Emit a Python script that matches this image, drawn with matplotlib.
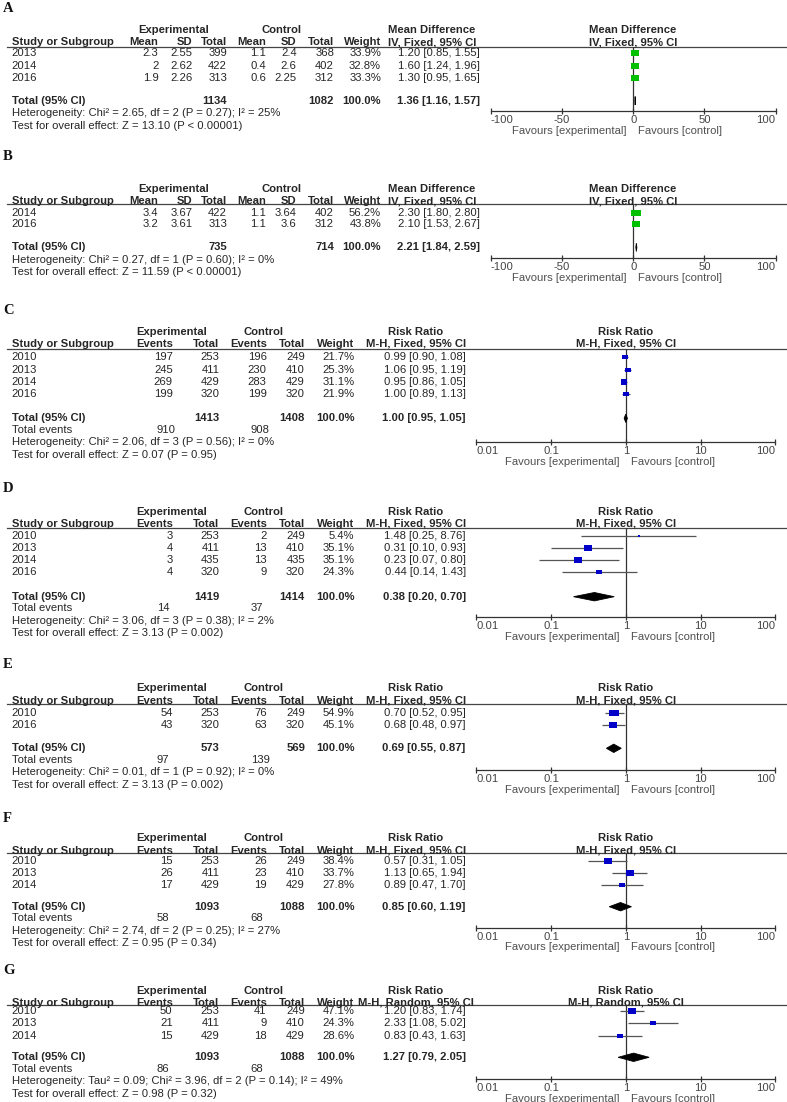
import numpy as np
import matplotlib
matplotlib.use('Agg')
import matplotlib.pyplot as plt
from matplotlib.ticker import NullLocator

plt.rcParams['font.family'] = ['Liberation Sans', 'DejaVu Sans']

# ---------------- DATA ----------------
# Panel A (mean difference)
studies_A = ['2013', '2014', '2016']
exp_mean_A = [2.3, 2, 1.9]
exp_sd_A = [2.55, 2.62, 2.26]
exp_n_A = [399, 422, 313]
ctl_mean_A = [1.1, 0.4, 0.6]
ctl_sd_A = [2.4, 2.6, 2.25]
ctl_n_A = [368, 402, 312]
weight_A = [33.9, 32.8, 33.3]
est_A = [1.20, 1.60, 1.30]
lo_A = [0.85, 1.24, 0.95]
hi_A = [1.55, 1.96, 1.65]
total_A = [1.36, 1.16, 1.57]
totn_A = [1134, 1082]
het_A = 'Heterogeneity: Chi² = 2.65, df = 2 (P = 0.27); I² = 25%'
test_A = 'Test for overall effect: Z = 13.10 (P < 0.00001)'

# Panel B (mean difference)
studies_B = ['2014', '2016']
exp_mean_B = [3.4, 3.2]
exp_sd_B = [3.67, 3.61]
exp_n_B = [422, 313]
ctl_mean_B = [1.1, 1.1]
ctl_sd_B = [3.64, 3.6]
ctl_n_B = [402, 312]
weight_B = [56.2, 43.8]
est_B = [2.30, 2.10]
lo_B = [1.80, 1.53]
hi_B = [2.80, 2.67]
total_B = [2.21, 1.84, 2.59]
totn_B = [735, 714]
het_B = 'Heterogeneity: Chi² = 0.27, df = 1 (P = 0.60); I² = 0%'
test_B = 'Test for overall effect: Z = 11.59 (P < 0.00001)'

# Panel C (risk ratio)
studies_C = ['2010', '2013', '2014', '2016']
exp_ev_C = [197, 245, 269, 199]
exp_n_C = [253, 411, 429, 320]
ctl_ev_C = [196, 230, 283, 199]
ctl_n_C = [249, 410, 429, 320]
weight_C = [21.7, 25.3, 31.1, 21.9]
est_C = [0.99, 1.06, 0.95, 1.00]
lo_C = [0.90, 0.95, 0.86, 0.89]
hi_C = [1.08, 1.19, 1.05, 1.13]
total_C = [1.00, 0.95, 1.05]
totn_C = [1413, 1408]
totev_C = [910, 908]
het_C = 'Heterogeneity: Chi² = 2.06, df = 3 (P = 0.56); I² = 0%'
test_C = 'Test for overall effect: Z = 0.07 (P = 0.95)'

# Panel D
studies_D = ['2010', '2013', '2014', '2016']
exp_ev_D = [3, 4, 3, 4]
exp_n_D = [253, 411, 435, 320]
ctl_ev_D = [2, 13, 13, 9]
ctl_n_D = [249, 410, 435, 320]
weight_D = [5.4, 35.1, 35.1, 24.3]
est_D = [1.48, 0.31, 0.23, 0.44]
lo_D = [0.25, 0.10, 0.07, 0.14]
hi_D = [8.76, 0.93, 0.80, 1.43]
total_D = [0.38, 0.20, 0.70]
totn_D = [1419, 1414]
totev_D = [14, 37]
het_D = 'Heterogeneity: Chi² = 3.06, df = 3 (P = 0.38); I² = 2%'
test_D = 'Test for overall effect: Z = 3.13 (P = 0.002)'

# Panel E
studies_E = ['2010', '2016']
exp_ev_E = [54, 43]
exp_n_E = [253, 320]
ctl_ev_E = [76, 63]
ctl_n_E = [249, 320]
weight_E = [54.9, 45.1]
est_E = [0.70, 0.68]
lo_E = [0.52, 0.48]
hi_E = [0.95, 0.97]
total_E = [0.69, 0.55, 0.87]
totn_E = [573, 569]
totev_E = [97, 139]
het_E = 'Heterogeneity: Chi² = 0.01, df = 1 (P = 0.92); I² = 0%'
test_E = 'Test for overall effect: Z = 3.13 (P = 0.002)'

# Panel F
studies_F = ['2010', '2013', '2014']
exp_ev_F = [15, 26, 17]
exp_n_F = [253, 411, 429]
ctl_ev_F = [26, 23, 19]
ctl_n_F = [249, 410, 429]
weight_F = [38.4, 33.7, 27.8]
est_F = [0.57, 1.13, 0.89]
lo_F = [0.31, 0.65, 0.47]
hi_F = [1.05, 1.94, 1.70]
total_F = [0.85, 0.60, 1.19]
totn_F = [1093, 1088]
totev_F = [58, 68]
het_F = 'Heterogeneity: Chi² = 2.74, df = 2 (P = 0.25); I² = 27%'
test_F = 'Test for overall effect: Z = 0.95 (P = 0.34)'

# Panel G
studies_G = ['2010', '2013', '2014']
exp_ev_G = [50, 21, 15]
exp_n_G = [253, 411, 429]
ctl_ev_G = [41, 9, 18]
ctl_n_G = [249, 410, 429]
weight_G = [47.1, 24.3, 28.6]
est_G = [1.20, 2.33, 0.83]
lo_G = [0.83, 1.08, 0.43]
hi_G = [1.74, 5.02, 1.63]
total_G = [1.27, 0.79, 2.05]
totn_G = [1093, 1088]
totev_G = [86, 68]
het_G = 'Heterogeneity: Tau² = 0.09; Chi² = 3.96, df = 2 (P = 0.14); I² = 49%'
test_G = 'Test for overall effect: Z = 0.98 (P = 0.32)'

md_ticks = [-100, -50, 0, 50, 100]
md_ticklabels = ['-100', '-50', '0', '50', '100']
rr_ticks = [0.01, 0.1, 1, 10, 100]
rr_ticklabels = ['0.01', '0.1', '1', '10', '100']

# ---------------- LAYOUT (pixel units) ----------------
W, H = 787, 1102
fig = plt.figure(figsize=(W / 100, H / 100), dpi=100)
bg = fig.add_axes([0, 0, 1, 1])
bg.set_xlim(0, W)
bg.set_ylim(H, 0)
bg.axis('off')

FS = 8.15
TXT = '#262626'
GRAY = '#505050'
GREEN = '#00c000'
BLUE = '#0000c8'

rect_marker = [(-1, -0.72), (1, -0.72), (1, 0.72), (-1, 0.72), (-1, -0.72)]


def t(x, y, s, ha='left', bold=False, color=TXT, fs=FS):
    bg.text(x, y, s, ha=ha, va='center', fontsize=fs,
            fontweight='bold' if bold else 'normal', color=color)


def forest_axes(x0, x1, line_y, axis_y, kind):
    ax = fig.add_axes([x0 / W, 1 - axis_y / H, (x1 - x0) / W, (axis_y - line_y) / H])
    ax.set_facecolor('none')
    ax.set_ylim(axis_y, line_y)
    if kind == 'rr':
        ax.set_xscale('log')
        ax.set_xlim(0.01, 100)
        ax.set_xticks(rr_ticks)
        ax.set_xticklabels(rr_ticklabels)
        ax.axvline(1, color='#333333', lw=0.9, zorder=1)
    else:
        ax.set_xlim(-100, 100)
        ax.set_xticks(md_ticks)
        ax.set_xticklabels(md_ticklabels)
        ax.axvline(0, color='#333333', lw=0.9, zorder=1)
    ax.xaxis.set_minor_locator(NullLocator())
    for s in ['top', 'left', 'right']:
        ax.spines[s].set_visible(False)
    ax.spines['bottom'].set_color('#333333')
    ax.spines['bottom'].set_linewidth(0.9)
    ax.set_yticks([])
    ax.tick_params(axis='x', direction='inout', length=5, width=0.9, color='#333333',
                   labelcolor='#444444', labelsize=FS, pad=0.5)
    labs = ax.get_xticklabels()
    labs[0].set_horizontalalignment('left')
    labs[-1].set_horizontalalignment('right')
    return ax


def draw_panel(letter, L, kind, studies, cols, weight, est, lo, hi, total, totn,
               totev, het, test, color, method):
    head = L['head']
    head2 = head + 12.2
    line = L['line']
    rows = [L['row0'] + i * L['dy'] for i in range(len(studies))]
    tot = L['total']
    axis_y = L['axis']

    bg.text(3, L['label'], letter, ha='left', va='center', fontsize=10.5,
            fontweight='bold', family=['Liberation Serif', 'DejaVu Serif'], color='#111111')
    bg.plot([7, 786], [line, line], color='#444444', lw=0.9)
    t(11.7, head2, 'Study or Subgroup', bold=True)

    if kind == 'md':
        colx = [158.5, 192.5, 227, 266, 296.5, 334]
        heads = ['Mean', 'SD', 'Total', 'Mean', 'SD', 'Total']
        wx, cix = 381, 480
        t(173.5, head, 'Experimental', ha='center', bold=True)
        t(281, head, 'Control', ha='center', bold=True)
        lhead_c = 432
        fx0, fx1, zero_x = 490.7, 775.7, 633
        title = 'Mean Difference'
        tot_cols = [227, 334]
    else:
        colx = [172.7, 219.3, 266.7, 305]
        heads = ['Events', 'Total', 'Events', 'Total']
        wx, cix = 354.3, 465.7
        t(172, head, 'Experimental', ha='center', bold=True)
        t(263, head, 'Control', ha='center', bold=True)
        lhead_c = 416
        fx0, fx1, zero_x = 476.3, 775.3, 625.7
        title = 'Risk Ratio'
        tot_cols = [219.3, 305]

    for x, h in zip(colx, heads):
        t(x, head2, h, ha='right', bold=True)
    t(wx, head2, 'Weight', ha='right', bold=True)
    t(lhead_c, head, title, ha='center', bold=True)
    t(lhead_c, head2, method, ha='center', bold=True)
    t(zero_x, head, title, ha='center', bold=True)
    t(zero_x, head2, method, ha='center', bold=True)

    for i, y in enumerate(rows):
        t(11.7, y, studies[i])
        for x, col in zip(colx, cols):
            t(x, y, '{:g}'.format(col[i]), ha='right')
        t(wx, y, '{:.1f}%'.format(weight[i]), ha='right')
        t(cix, y, '{:.2f} [{:.2f}, {:.2f}]'.format(est[i], lo[i], hi[i]), ha='right')

    t(11.7, tot, 'Total (95% CI)', bold=True)
    t(tot_cols[0], tot, str(totn[0]), ha='right', bold=True)
    t(tot_cols[1], tot, str(totn[1]), ha='right', bold=True)
    t(wx, tot, '100.0%', ha='right', bold=True)
    t(cix, tot, '{:.2f} [{:.2f}, {:.2f}]'.format(*total), ha='right', bold=True)
    y = tot
    if totev is not None:
        y += 11.5
        t(11.7, y, 'Total events')
        t(156.7, y, str(totev[0]))
        t(250.7, y, str(totev[1]))
    y += 12.6
    t(11.7, y, het)
    y += 12.4
    t(11.7, y, test)

    ax = forest_axes(fx0, fx1, line, axis_y, kind)
    ax.hlines(rows, lo, hi, color='#555555', lw=0.9, zorder=2)
    for i, yy in enumerate(rows):
        side = 1.25 * np.sqrt(weight[i]) * 0.72
        ax.plot([est[i]], [yy], marker=rect_marker, ms=side, color=color,
                mec=color, mew=0, ls='none', zorder=3)
    e, l, h = total
    ax.fill([l, e, h, e], [tot, tot - 4.2, tot, tot + 4.2], color='black', lw=0.6,
            ec='black', zorder=3)

    t(zero_x - 6, axis_y + 20, 'Favours [experimental]', ha='right', color=GRAY)
    t(zero_x + 5, axis_y + 20, 'Favours [control]', ha='left', color=GRAY)


LA = dict(label=8, head=30, line=46.7, row0=53.3, dy=12.5, total=100.7, axis=111)
LB = dict(label=157, head=189, line=203.7, row0=212.7, dy=11.5, total=247.3, axis=257.7)
LC = dict(label=310, head=331.7, line=349, row0=357.3, dy=12.3, total=418.3, axis=441.7)
LD = dict(label=488.3, head=511.7, line=528.3, row0=535.7, dy=12.2, total=596.7, axis=617.3)
LE = dict(label=665, head=688.3, line=704, row0=712.7, dy=12.3, total=748.3, axis=770)
LF = dict(label=818.3, head=838.3, line=853.3, row0=861, dy=12, total=906.7, axis=927.5)
LG = dict(label=970, head=990.7, line=1005, row0=1011, dy=12.3, total=1057.3, axis=1078.5)

draw_panel('A', LA, 'md', studies_A,
           [exp_mean_A, exp_sd_A, exp_n_A, ctl_mean_A, ctl_sd_A, ctl_n_A],
           weight_A, est_A, lo_A, hi_A, total_A, totn_A, None, het_A, test_A,
           GREEN, 'IV, Fixed, 95% CI')
draw_panel('B', LB, 'md', studies_B,
           [exp_mean_B, exp_sd_B, exp_n_B, ctl_mean_B, ctl_sd_B, ctl_n_B],
           weight_B, est_B, lo_B, hi_B, total_B, totn_B, None, het_B, test_B,
           GREEN, 'IV, Fixed, 95% CI')
draw_panel('C', LC, 'rr', studies_C, [exp_ev_C, exp_n_C, ctl_ev_C, ctl_n_C],
           weight_C, est_C, lo_C, hi_C, total_C, totn_C, totev_C, het_C, test_C,
           BLUE, 'M-H, Fixed, 95% CI')
draw_panel('D', LD, 'rr', studies_D, [exp_ev_D, exp_n_D, ctl_ev_D, ctl_n_D],
           weight_D, est_D, lo_D, hi_D, total_D, totn_D, totev_D, het_D, test_D,
           BLUE, 'M-H, Fixed, 95% CI')
draw_panel('E', LE, 'rr', studies_E, [exp_ev_E, exp_n_E, ctl_ev_E, ctl_n_E],
           weight_E, est_E, lo_E, hi_E, total_E, totn_E, totev_E, het_E, test_E,
           BLUE, 'M-H, Fixed, 95% CI')
draw_panel('F', LF, 'rr', studies_F, [exp_ev_F, exp_n_F, ctl_ev_F, ctl_n_F],
           weight_F, est_F, lo_F, hi_F, total_F, totn_F, totev_F, het_F, test_F,
           BLUE, 'M-H, Fixed, 95% CI')
draw_panel('G', LG, 'rr', studies_G, [exp_ev_G, exp_n_G, ctl_ev_G, ctl_n_G],
           weight_G, est_G, lo_G, hi_G, total_G, totn_G, totev_G, het_G, test_G,
           BLUE, 'M-H, Random, 95% CI')

fig.savefig('out.png', dpi=100)
